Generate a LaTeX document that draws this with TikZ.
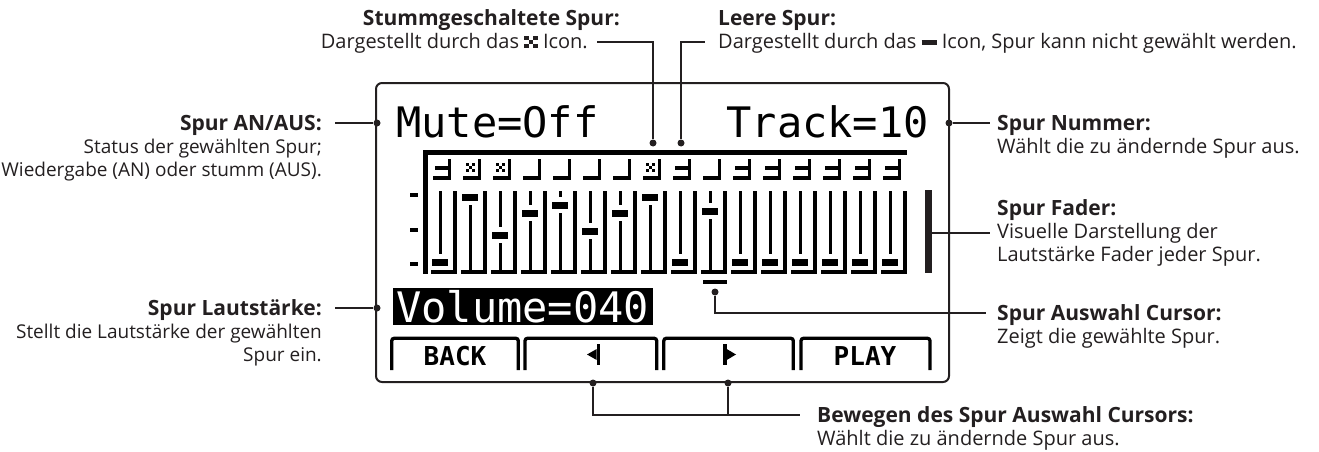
\documentclass[tikz,border=0pt]{standalone}
\usepackage{fontspec}
\setmainfont{Open Sans}
\newfontfamily\lcdfont{DejaVu Sans Mono}
\definecolor{ink}{HTML}{231F20}
\newcommand\xico{\rlap{\rule{4.5pt}{4pt}\hspace{4.5pt}\rule{4.5pt}{4pt}}\rlap{\hspace{4.5pt}\rule[4pt]{4.5pt}{4pt}}\rule[8pt]{4.5pt}{4pt}\hspace{4.5pt}\rule[8pt]{4.5pt}{4pt}}
\newcommand\dashico{\rule[3pt]{15pt}{5pt}}
\begin{document}
\begin{tikzpicture}[x=1pt,y=-1pt,
  title/.style={font=\fontsize{21}{24}\selectfont\bfseries,text=ink,inner sep=0pt},
  body/.style={font=\fontsize{20}{24}\selectfont,text=ink,inner sep=0pt},
  bodyl/.style={font=\fontsize{19}{24}\selectfont,text=ink,inner sep=0pt},
  conn/.style={draw=ink,line width=1.4pt},
  dot/.style={circle,fill=ink,inner sep=0pt,minimum size=7pt},
  lcdtext/.style={font=\lcdfont\fontsize{42}{42}\selectfont,inner sep=0pt},
  keytext/.style={font=\lcdfont\fontsize{26}{26}\selectfont\bfseries,inner sep=0pt},
  keyline/.style={draw=black,line width=3.3pt,rounded corners=2.5pt},
  lcdframe/.style={draw=ink,line width=2pt,rounded corners=6pt},
]
\useasboundingbox (0,0) rectangle (1319,452);

% LCD frame
\draw[lcdframe] (376,83) rectangle (949,382);

% LCD texts
\node[lcdtext,anchor=base west] (mute) at (396,137) {Mute=Off};
\node[lcdtext,anchor=base east] (track) at (929,137) {Track=10};
\fill[black] (393,288) rectangle (653,325);
\node[lcdtext,anchor=base west,text=white] (vol) at (396,322) {Volume=040};

% track grid
\fill[black] (423,150) rectangle (907,155);
\fill[black] (423,150) rectangle (428,274);
\foreach \k in {1,...,16} {
  \pgfmathsetmacro\c{440+30*(\k-1)}
  \fill[black] ({\c-7},176) rectangle ({\c+11},180);
  \fill[black] ({\c+8},159) rectangle ({\c+11},180);
  \fill[black] ({\c+13},191) rectangle ({\c+17},274);
  \fill[black] ({\c-9},270) rectangle ({\c+17},274);
  \fill[black] ({\c-1.5},191) rectangle ({\c+1.5},270);
}
\foreach \k in {1,9,11,12,13,14,15,16} {
  \pgfmathsetmacro\c{440+30*(\k-1)}
  \fill[black] ({\c-5},166) rectangle ({\c+8},169.5);
}
\foreach \k in {2,3,8} {
  \pgfmathsetmacro\c{440+30*(\k-1)}
  \fill[black] ({\c-4.5},163) rectangle ({\c-1.5},166);
  \fill[black] ({\c+1.5},163) rectangle ({\c+4.5},166);
  \fill[black] ({\c-1.5},166) rectangle ({\c+1.5},169);
  \fill[black] ({\c-4.5},169) rectangle ({\c-1.5},172);
  \fill[black] ({\c+1.5},169) rectangle ({\c+4.5},172);
}
\foreach \k/\h in {1/262,2/197,3/235,4/213,5/205,6/231,7/213,8/197,9/262,10/211,11/262,12/262,13/262,14/262,15/262,16/262} {
  \pgfmathsetmacro\c{440+30*(\k-1)}
  \fill[white] ({\c-8},{\h-8}) rectangle ({\c+8},{\h+7.5});
  \fill[black] ({\c-8},{\h-3.5}) rectangle ({\c+8},{\h+3.5});
}
% scale ticks
\foreach \t in {195,230,264} {
  \fill[black] (410,{\t-2}) rectangle (418,{\t+2});
}
% fader bar and cursor
\fill[ink] (925,190) rectangle (932,273);
\coordinate (faderR) at (932,233);
\fill[black] (703,280) rectangle (727,283.5);

% soft keys
\draw[keyline] (391.7,370) -- (391.7,338.3) -- (518.3,338.3) -- (518.3,370);
\draw[keyline] (525,370) -- (525,338.3) -- (656.7,338.3) -- (656.7,370);
\draw[keyline] (663.8,370) -- (663.8,338.3) -- (793.3,338.3) -- (793.3,370);
\draw[keyline] (801,370) -- (801,338.3) -- (930,338.3) -- (930,370);
\node[keytext,anchor=base] (back) at (455,365) {BACK};
\node[keytext,anchor=base] (play) at (865,365) {PLAY};
\fill[black] (596.7,344) rectangle (600,365);
\fill[black] (596.7,349) -- (587,354.5) -- (596.7,360) -- cycle;
\fill[black] (723.3,344) rectangle (726.7,365);
\fill[black] (726.7,349) -- (736,354.5) -- (726.7,360) -- cycle;

% dots
\node[dot] (anDot) at (377,123) {};
\node[dot] (nrDot) at (949,123) {};
\node[dot] (muteDot) at (653,143) {};
\node[dot] (leerDot) at (681,143) {};
\node[dot] (volDot) at (377,308) {};
\node[dot] (curDot) at (715,292) {};
\node[dot] (lDot) at (593,383) {};
\node[dot] (rDot) at (728,383) {};

% labels
\node[title,anchor=base east] (anT) at (322,130.5) {Spur AN/AUS:};
\node[bodyl,anchor=base east] (anA) at (322,153.5) {Status der gewählten Spur;};
\node[bodyl,anchor=base east] (anB) at (322,176.5) {Wiedergabe (AN) oder stumm (AUS).};

\node[title,anchor=base east] (vlT) at (322,315.5) {Spur Lautstärke:};
\node[bodyl,anchor=base east] (vlA) at (322,338.5) {Stellt die Lautstärke der gewählten};
\node[bodyl,anchor=base east] (vlB) at (322,361.5) {Spur ein.};

\node[title,anchor=base west] (nrT) at (997,130.5) {Spur Nummer:};
\node[body,anchor=base west] (nrA) at (997,153.5) {Wählt die zu ändernde Spur aus.};

\node[title,anchor=base west] (fdT) at (997,215.5) {Spur Fader:};
\node[body,anchor=base west] (fdA) at (997,238.5) {Visuelle Darstellung der};
\node[body,anchor=base west] (fdB) at (997,261.5) {Lautstärke Fader jeder Spur.};

\node[title,anchor=base west] (csT) at (997,320.5) {Spur Auswahl Cursor:};
\node[body,anchor=base west] (csA) at (997,343.5) {Zeigt die gewählte Spur.};

\node[title,anchor=base west] (mvT) at (817,422.5) {Bewegen des Spur Auswahl Cursors:};
\node[body,anchor=base west] (mvA) at (817,445.5) {Wählt die zu ändernde Spur aus.};

\node[title,anchor=base east] (muT) at (620,25.5) {Stummgeschaltete Spur:};
\node[body,anchor=base east] (muA) at (588,48.5) {Dargestellt durch das \xico\ Icon.};

\node[title,anchor=base west] (leT) at (718,25.5) {Leere Spur:};
\node[body,anchor=base west] (leA) at (718,48.5) {Dargestellt durch das \dashico\ Icon, Spur kann nicht gewählt werden.};

% connector free ends
\coordinate (anL) at (335,123);
\coordinate (vlL) at (335,308);
\coordinate (nrR) at (990,123);
\coordinate (fdR) at (990,233);
\coordinate (csR) at (986,313);
\coordinate (mvR) at (800,415);
\coordinate (muL) at (597,42);
\coordinate (leR) at (705,42);

% connectors
\draw[conn] (anL) -- (anDot);
\draw[conn] (vlL) -- (volDot);
\draw[conn] (nrDot) -- (nrR);
\draw[conn] (faderR) -- (fdR);
\draw[conn] (curDot) |- (csR);
\draw[conn] (lDot) |- (mvR);
\draw[conn] (rDot) -- (rDot |- mvR);
\draw[conn] (muL) -| (muteDot);
\draw[conn] (leerDot) |- (leR);
\end{tikzpicture}
\end{document}
